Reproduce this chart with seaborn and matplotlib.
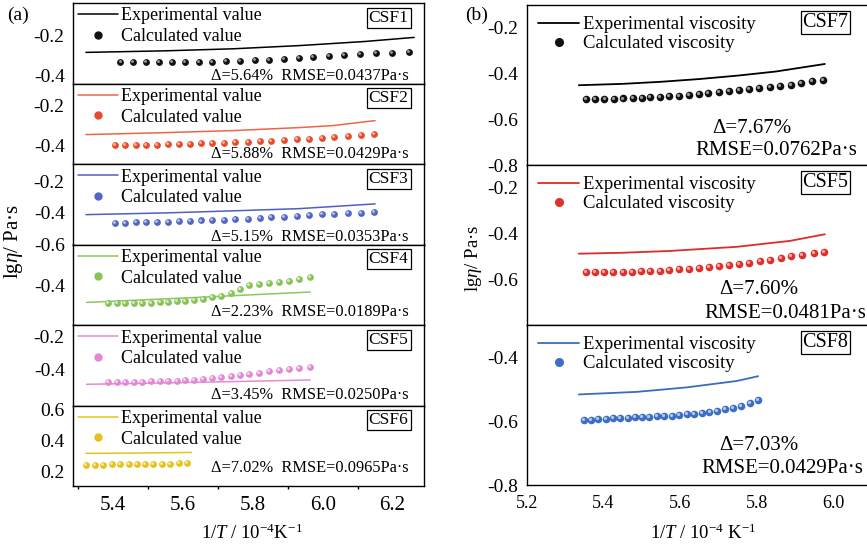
import numpy as np
import pandas as pd
import matplotlib
matplotlib.use("Agg")
import matplotlib.pyplot as plt
import seaborn as sns
from matplotlib.lines import Line2D
from matplotlib.transforms import offset_copy

# ---------------- data ----------------
# left panel (a)
csf1_line_x = [5.322, 5.552, 5.743, 5.933, 6.124, 6.262]
csf1_line_y = [-0.287, -0.279, -0.269, -0.253, -0.232, -0.212]
csf1_pt_x = [5.421, 5.457, 5.493, 5.530, 5.569, 5.607, 5.645, 5.683, 5.724, 5.764, 5.805,
             5.846, 5.889, 5.932, 5.973, 6.017, 6.062, 6.107, 6.152, 6.198, 6.246]
csf1_pt_y = [-0.335, -0.335, -0.335, -0.335, -0.335, -0.335, -0.335, -0.333, -0.332, -0.330, -0.327,
             -0.323, -0.320, -0.315, -0.312, -0.307, -0.302, -0.297, -0.292, -0.288, -0.283]

csf2_line_x = [5.322, 5.552, 5.743, 5.933, 6.029, 6.150]
csf2_line_y = [-0.348, -0.338, -0.328, -0.313, -0.303, -0.278]
csf23_pt_x = [5.405, 5.433, 5.464, 5.495, 5.526, 5.557, 5.589, 5.620, 5.651, 5.684, 5.717, 5.750,
              5.785, 5.819, 5.853, 5.889, 5.925, 5.961, 5.997, 6.033, 6.071, 6.109, 6.147]
csf2_pt_y = [-0.400, -0.400, -0.398, -0.398, -0.398, -0.397, -0.395, -0.393, -0.392, -0.390, -0.388, -0.387,
             -0.385, -0.382, -0.378, -0.375, -0.372, -0.368, -0.363, -0.358, -0.355, -0.350, -0.343]

csf3_line_x = [5.322, 5.552, 5.743, 5.933, 6.150]
csf3_line_y = [-0.411, -0.400, -0.387, -0.373, -0.343]
csf3_pt_y = [-0.461, -0.461, -0.459, -0.459, -0.457, -0.455, -0.453, -0.451, -0.448, -0.446, -0.442, -0.440,
             -0.436, -0.432, -0.427, -0.423, -0.419, -0.415, -0.408, -0.404, -0.402, -0.398, -0.396]

csf45_pt_x = [5.386, 5.410, 5.434, 5.459, 5.483, 5.508, 5.533, 5.557, 5.582, 5.607, 5.631, 5.657,
              5.683, 5.710, 5.736, 5.763, 5.790, 5.817, 5.845, 5.874, 5.903, 5.933, 5.963]
csf4_line_x = [5.324, 5.640, 5.964]
csf4_line_y = [-0.487, -0.462, -0.435]
csf4_pt_y = [-0.492, -0.492, -0.490, -0.490, -0.488, -0.488, -0.487, -0.485, -0.482, -0.478, -0.473, -0.468,
             -0.462, -0.455, -0.442, -0.422, -0.402, -0.395, -0.390, -0.385, -0.378, -0.370, -0.362]

csf5_line_x = [5.324, 5.640, 5.964]
csf5_line_y = [-0.487, -0.475, -0.461]
csf5_pt_y = [-0.473, -0.473, -0.473, -0.471, -0.471, -0.469, -0.469, -0.467, -0.465, -0.463, -0.459, -0.455,
             -0.451, -0.444, -0.438, -0.432, -0.424, -0.416, -0.408, -0.402, -0.394, -0.388, -0.382]

csf6_line_x = [5.322, 5.470, 5.624]
csf6_line_y = [0.319, 0.321, 0.325]
csf6_pt_x = [5.322, 5.347, 5.371, 5.396, 5.420, 5.444, 5.468, 5.491, 5.515, 5.540, 5.564, 5.589, 5.612]
csf6_pt_y = [0.245, 0.245, 0.245, 0.247, 0.247, 0.247, 0.247, 0.250, 0.250, 0.252, 0.252, 0.254, 0.256]

# right panel (b)
csf7_line_x = [5.336, 5.450, 5.550, 5.650, 5.750, 5.850, 5.978]
csf7_line_y = [-0.451, -0.445, -0.436, -0.424, -0.409, -0.391, -0.358]
csf7_pt_x = [5.354, 5.379, 5.403, 5.428, 5.452, 5.477, 5.500, 5.522, 5.548, 5.572, 5.597, 5.624, 5.649,
             5.674, 5.701, 5.727, 5.754, 5.780, 5.807, 5.834, 5.861, 5.889, 5.916, 5.944, 5.973]
csf7_pt_y = [-0.513, -0.513, -0.511, -0.510, -0.509, -0.507, -0.506, -0.504, -0.501, -0.498, -0.496, -0.493, -0.488,
             -0.485, -0.481, -0.477, -0.472, -0.468, -0.464, -0.459, -0.455, -0.449, -0.442, -0.434, -0.428]

csf5r_line_x = [5.336, 5.450, 5.574, 5.748, 5.887, 5.978]
csf5r_line_y = [-0.488, -0.484, -0.476, -0.458, -0.432, -0.403]
csf5r_pt_x = [5.354, 5.378, 5.402, 5.426, 5.450, 5.475, 5.498, 5.522, 5.548, 5.572, 5.598, 5.623, 5.650,
              5.676, 5.702, 5.728, 5.754, 5.781, 5.808, 5.835, 5.863, 5.890, 5.918, 5.949, 5.976]
csf5r_pt_y = [-0.567, -0.567, -0.567, -0.566, -0.566, -0.566, -0.565, -0.563, -0.562, -0.560, -0.557, -0.554, -0.552,
              -0.547, -0.543, -0.537, -0.532, -0.527, -0.521, -0.514, -0.506, -0.499, -0.493, -0.487, -0.481]

csf8_line_x = [5.336, 5.487, 5.617, 5.748, 5.804]
csf8_line_y = [-0.517, -0.509, -0.495, -0.475, -0.460]
csf8_pt_x = [5.350, 5.369, 5.387, 5.406, 5.425, 5.444, 5.464, 5.482, 5.501, 5.520, 5.539, 5.559,
             5.578, 5.597, 5.617, 5.637, 5.657, 5.677, 5.697, 5.718, 5.739, 5.760, 5.782, 5.804]
csf8_pt_y = [-0.596, -0.596, -0.595, -0.593, -0.592, -0.591, -0.590, -0.588, -0.587, -0.586, -0.585, -0.584,
             -0.583, -0.581, -0.579, -0.577, -0.574, -0.571, -0.568, -0.563, -0.559, -0.552, -0.544, -0.535]

left_names = ["CSF1", "CSF2", "CSF3", "CSF4", "CSF5", "CSF6"]
left_notes = ["Δ=5.64%  RMSE=0.0437Pa·s", "Δ=5.88%  RMSE=0.0429Pa·s", "Δ=5.15%  RMSE=0.0353Pa·s",
              "Δ=2.23%  RMSE=0.0189Pa·s", "Δ=3.45%  RMSE=0.0250Pa·s", "Δ=7.02%  RMSE=0.0965Pa·s"]
right_names = ["CSF7", "CSF5", "CSF8"]
right_delta = ["Δ=7.67%", "Δ=7.60%", "Δ=7.03%"]
right_rmse = ["RMSE=0.0762Pa·s", "RMSE=0.0481Pa·s", "RMSE=0.0429Pa·s"]

# ---------------- style ----------------
sns.set_theme(style="white")
plt.rcParams.update({
    "font.family": ["Liberation Serif", "DejaVu Serif"],
    "mathtext.fontset": "custom",
    "mathtext.rm": "Liberation Serif",
    "mathtext.it": "Liberation Serif:italic",
    "axes.unicode_minus": False,
    "axes.edgecolor": "black",
    "axes.linewidth": 1.0,
    "xtick.direction": "out",
    "ytick.direction": "out",
    "xtick.color": "black",
    "ytick.color": "black",
    "text.color": "black",
})

fig = plt.figure(figsize=(8.67, 5.51), dpi=100)
W, H = 867.0, 551.0

gsl = fig.add_gridspec(6, 1, left=73 / W, right=424 / W, top=1 - 3 / H, bottom=1 - 486 / H, hspace=0)
gsr = fig.add_gridspec(3, 1, left=526.7 / W, right=1.0, top=1 - 5 / H, bottom=1 - 485 / H, hspace=0)


def balls(ax, x, y, color, hi, size):
    sns.scatterplot(x=x, y=y, ax=ax, color=color, s=size, linewidth=0, zorder=3, legend=False)
    tr = offset_copy(ax.transData, fig=fig, x=-0.7, y=0.7, units="points")
    ax.scatter(x, y, s=size * 0.18, color=hi, linewidth=0, transform=tr, zorder=4)


left_note_y = [0.093, 0.124, 0.097, 0.165, 0.13, 0.22]

left_specs = [
    (csf1_line_x, csf1_line_y, csf1_pt_x, csf1_pt_y, "#000000", "#111111", "#9a9a9a", (-0.4425, -0.04), [-0.4, -0.2]),
    (csf2_line_x, csf2_line_y, csf23_pt_x, csf2_pt_y, "#f06545", "#e84a2c", "#ffb8a0", (-0.495, -0.0925), [-0.4, -0.2]),
    (csf3_line_x, csf3_line_y, csf23_pt_x, csf3_pt_y, "#4f5fc0", "#5466c2", "#b6c0f0", (-0.6, -0.0905), [-0.6, -0.4, -0.2]),
    (csf4_line_x, csf4_line_y, csf45_pt_x, csf4_pt_y, "#8cc85c", "#88c259", "#d6f0be", (-0.6, -0.1975), [-0.4]),
    (csf5_line_x, csf5_line_y, csf45_pt_x, csf5_pt_y, "#e48bd8", "#e289d4", "#f8d4f2", (-0.615, -0.129), [-0.4, -0.2]),
    (csf6_line_x, csf6_line_y, csf6_pt_x, csf6_pt_y, "#e6c21c", "#e6c01c", "#fbe99a", (0.1075, 0.629), [0.2, 0.4, 0.6]),
]

for i, (lx, ly, px, py, lc, pc, hc, ylim, yt) in enumerate(left_specs):
    ax = fig.add_subplot(gsl[i, 0])
    sns.lineplot(x=lx, y=ly, ax=ax, color=lc, linewidth=1.1, zorder=2)
    balls(ax, px, py, pc, hc, 24)
    ax.set_xlim(5.285, 6.29)
    ax.set_ylim(*ylim)
    ax.set_yticks(yt)
    ax.set_yticklabels(["%.1f" % v for v in yt])
    ax.tick_params(axis="y", length=4, width=1.0, labelsize=14, pad=2)
    for s in ax.spines.values():
        s.set_color("black")
        s.set_linewidth(1.0)
    if i < 5:
        ax.tick_params(axis="x", bottom=False, labelbottom=False)
    else:
        ax.set_xticks([5.4, 5.6, 5.8, 6.0, 6.2])
        ax.set_xticklabels(["5.4", "5.6", "5.8", "6.0", "6.2"])
        ax.set_xticks([5.3, 5.5, 5.7, 5.9, 6.1], minor=True)
        ax.tick_params(axis="x", which="major", length=4, width=1.0, labelsize=15, pad=3)
        ax.tick_params(axis="x", which="minor", length=2.5, width=1.0, bottom=True)
    ax.set_xlabel("")
    ax.set_ylabel("")
    handles = [Line2D([], [], color=lc, linewidth=1.1),
               Line2D([], [], color=pc, marker="o", linestyle="", markersize=5)]
    ax.legend(handles, ["Experimental value", "Calculated value"], loc="upper left",
              bbox_to_anchor=(5 / 351, 1 - 4.5 / 80.5), frameon=False, fontsize=13,
              handlelength=2.2, handletextpad=0.2, labelspacing=0.2, borderpad=0, borderaxespad=0)
    ax.text(0.899, 0.815, left_names[i], transform=ax.transAxes, ha="center", va="center", fontsize=12.5,
            bbox=dict(boxstyle="square,pad=0.12", fc="white", ec="black", lw=0.9))
    ax.text(0.957, left_note_y[i], left_notes[i], transform=ax.transAxes, ha="right", va="center", fontsize=11.8)

right_specs = [
    (csf7_line_x, csf7_line_y, csf7_pt_x, csf7_pt_y, "#000000", "#111111", "#9a9a9a", (-0.8, -0.1), [-0.8, -0.6, -0.4, -0.2],
     (0.662, 0.227), (0.733, 0.093)),
    (csf5r_line_x, csf5r_line_y, csf5r_pt_x, csf5r_pt_y, "#e02a2a", "#e0302c", "#ffaaa0", (-0.8, -0.1), [-0.6, -0.4, -0.2],
     (0.683, 0.224), (0.760, 0.074)),
    (csf8_line_x, csf8_line_y, csf8_pt_x, csf8_pt_y, "#3a6cc0", "#3e6ec2", "#b0c8f0", (-0.8, -0.3), [-0.8, -0.6, -0.4],
     (0.681, 0.25), (0.752, 0.105)),
]

for i, (lx, ly, px, py, lc, pc, hc, ylim, yt, dpos, rpos) in enumerate(right_specs):
    ax = fig.add_subplot(gsr[i, 0])
    sns.lineplot(x=lx, y=ly, ax=ax, color=lc, linewidth=1.3, zorder=2)
    balls(ax, px, py, pc, hc, 30)
    ax.set_xlim(5.2, 6.088)
    ax.set_ylim(*ylim)
    ax.set_yticks(yt)
    ax.set_yticklabels(["%.1f" % v for v in yt])
    ax.tick_params(axis="y", length=4, width=1.0, labelsize=14, pad=2)
    ax.spines["right"].set_visible(False)
    for s in ax.spines.values():
        s.set_color("black")
        s.set_linewidth(1.0)
    if i < 2:
        ax.tick_params(axis="x", bottom=False, labelbottom=False)
    else:
        ax.set_xticks([5.2, 5.4, 5.6, 5.8, 6.0])
        ax.set_xticklabels(["5.2", "5.4", "5.6", "5.8", "6.0"])
        ax.tick_params(axis="x", which="major", length=4, width=1.0, labelsize=13, pad=3)
    ax.set_xlabel("")
    ax.set_ylabel("")
    handles = [Line2D([], [], color=lc, linewidth=1.3),
               Line2D([], [], color=pc, marker="o", linestyle="", markersize=5.5)]
    ax.legend(handles, ["Experimental viscosity", "Calculated viscosity"], loc="upper left",
              bbox_to_anchor=(11.3 / 340.3, 1 - 11.2 / 160), frameon=False, fontsize=13.5,
              handlelength=2.2, handletextpad=0.2, labelspacing=0.1, borderpad=0, borderaxespad=0)
    ax.text(0.877, 0.89, right_names[i], transform=ax.transAxes, ha="center", va="center", fontsize=14.5,
            bbox=dict(boxstyle="square,pad=0.08", fc="white", ec="black", lw=0.9))
    ax.text(dpos[0], dpos[1], right_delta[i], transform=ax.transAxes, ha="center", va="center", fontsize=15)
    ax.text(rpos[0], rpos[1], right_rmse[i], transform=ax.transAxes, ha="center", va="center", fontsize=15)

# labels
fig.text(13.5 / W, 1 - 242 / H, r"lg$\it{\eta}$/ Pa·s", rotation=90, ha="center", va="center", fontsize=15)
fig.text(473 / W, 1 - 258 / H, r"lg$\it{\eta}$/ Pa·s", rotation=90, ha="center", va="center", fontsize=13.5)
fig.text(252 / W, 1 - 533 / H, r"1/$T$ / 10$^{-4}$K$^{-1}$", ha="center", va="center", fontsize=13.5)
fig.text(703 / W, 1 - 533 / H, r"1/$T$ / 10$^{-4}$ K$^{-1}$", ha="center", va="center", fontsize=13.5)
fig.text(18 / W, 1 - 15 / H, "(a)", ha="center", va="center", fontsize=14)
fig.text(477 / W, 1 - 15 / H, "(b)", ha="center", va="center", fontsize=14)

fig.savefig("out.png", dpi=100)
